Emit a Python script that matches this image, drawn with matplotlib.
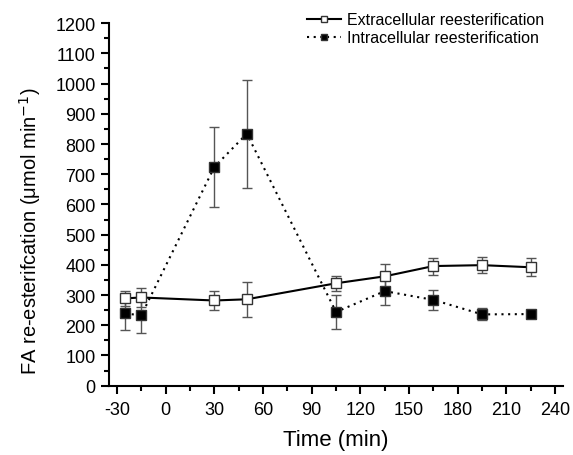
import matplotlib.pyplot as plt
from matplotlib.ticker import MultipleLocator

plt.rcParams['font.family'] = ['Liberation Sans', 'DejaVu Sans']
plt.rcParams['axes.unicode_minus'] = False

# Time points (min)
time = [-25, -15, 30, 50, 105, 135, 165, 195, 225]

# Extracellular reesterification (open squares)
extra = [289, 292, 282, 286, 339, 362, 396, 399, 392]
extra_err = [25, 30, 33, 58, 25, 40, 28, 26, 30]

# Intracellular reesterification (filled squares)
intra = [239, 233, 724, 834, 244, 313, 284, 236, 237]
intra_err = [55, 60, 133, 178, 57, 47, 33, 20, 10]

fig = plt.figure(figsize=(5.73, 4.56), dpi=100)
ax = fig.add_axes([0.190, 0.152, 0.793, 0.795])

# Error bars first (gray, capped)
ax.errorbar(time, extra, yerr=extra_err, fmt='none', ecolor='#555555',
            elinewidth=1, capsize=3.5, capthick=1, zorder=1)
ax.errorbar(time, intra, yerr=intra_err, fmt='none', ecolor='#555555',
            elinewidth=1, capsize=3.5, capthick=1, zorder=1)

# Lines with square markers
ax.plot(time, extra, color='black', lw=1.5, ls='-', marker='s', ms=7.5,
        mfc='white', mec='#333333', mew=1, label='Extracellular reesterification',
        zorder=3)
ax.plot(time, intra, color='black', lw=1.5, ls=(0, (1, 2.2)), marker='s', ms=7.5,
        mfc='black', mec='#333333', mew=1, label='Intracellular reesterification',
        zorder=2)

ax.set_xlim(-35, 245)
ax.set_ylim(0, 1200)
ax.xaxis.set_major_locator(MultipleLocator(30))
ax.xaxis.set_minor_locator(MultipleLocator(15))
ax.yaxis.set_major_locator(MultipleLocator(100))
ax.yaxis.set_minor_locator(MultipleLocator(50))

for side in ['top', 'right']:
    ax.spines[side].set_visible(False)
for side in ['left', 'bottom']:
    ax.spines[side].set_linewidth(1.5)

ax.tick_params(which='major', direction='out', length=6, width=1.5, labelsize=13)
ax.tick_params(axis='x', which='major', pad=5)
ax.tick_params(which='minor', direction='out', length=3.5, width=1.5)

ax.set_xlabel('Time (min)', fontsize=16, labelpad=8)
ax.set_ylabel('FA re-esterifcation (\u03bcmol min$^{-1}$)', fontsize=14.5)
ax.yaxis.set_label_coords(-0.145, 0.43)

leg = ax.legend(loc='upper right', bbox_to_anchor=(0.99, 1.07), frameon=False,
                fontsize=11.5, handlelength=2.1, markerscale=0.6,
                handletextpad=0.4, labelspacing=0.2)

plt.savefig('out.png', dpi=100)
